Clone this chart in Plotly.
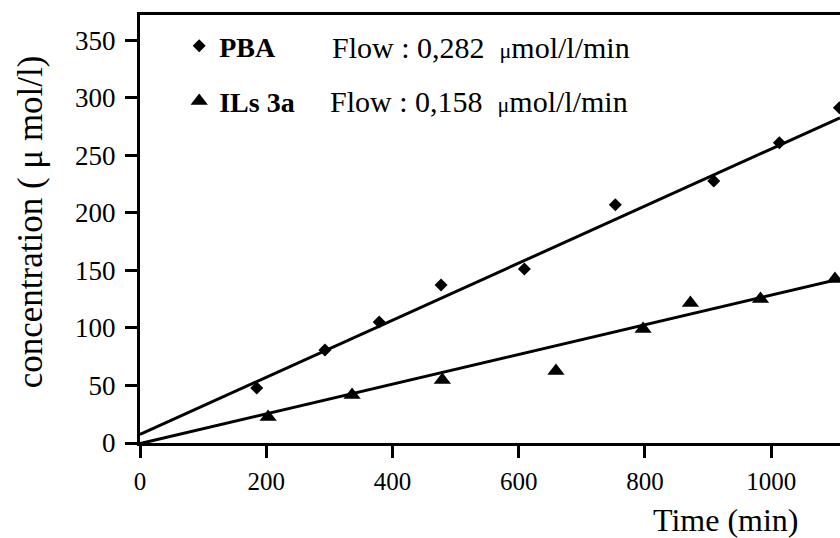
import plotly.graph_objects as go

# ---- data ----
pba_time = [185, 293, 379, 477, 609, 753, 909, 1013, 1108]
pba_conc = [47.8, 80.9, 105.2, 137.4, 151.3, 207.0, 227.8, 260.9, 291.3]

ils_time = [203, 336, 479, 659, 797, 872, 983, 1101]
ils_conc = [22.6, 41.7, 54.8, 62.6, 99.1, 121.7, 125.2, 142.6]

# fitted lines (end points)
pba_fit_time = [0, 1109]
pba_fit_conc = [7.5, 282.6]
ils_fit_time = [0, 1109]
ils_fit_conc = [-0.5, 142.6]

x_ticks = [0, 200, 400, 600, 800, 1000]
y_ticks = [0, 50, 100, 150, 200, 250, 300, 350]

pba_flow = "Flow : 0,282\u00a0\u00a0<span style='font-size:22px'>\u03bc</span>mol/l/min"
ils_flow = "Flow : 0,158\u00a0\u00a0<span style='font-size:22px'>\u03bc</span>mol/l/min"

FONT = "Liberation Serif"

fig = go.Figure()
fig.add_trace(go.Scatter(x=pba_fit_time, y=pba_fit_conc, mode="lines",
                         line=dict(color="black", width=3), showlegend=False,
                         hoverinfo="skip"))
fig.add_trace(go.Scatter(x=ils_fit_time, y=ils_fit_conc, mode="lines",
                         line=dict(color="black", width=3), showlegend=False,
                         hoverinfo="skip"))
fig.add_trace(go.Scatter(x=pba_time, y=pba_conc, mode="markers", name="<b>PBA</b>",
                         legendgroup="a",
                         marker=dict(symbol="diamond", size=10, color="black")))
fig.add_trace(go.Scatter(x=ils_time, y=ils_conc, mode="markers", name="<b>ILs 3a</b>",
                         legendgroup="b",
                         marker=dict(symbol="triangle-up", size=15, color="black")))

fig.add_annotation(text=pba_flow, xref="paper", yref="paper", x=0.2714, y=0.925,
                   xanchor="left", yanchor="middle", showarrow=False,
                   font=dict(family=FONT, size=30, color="black"))
fig.add_annotation(text=ils_flow, xref="paper", yref="paper", x=0.2686, y=0.797,
                   xanchor="left", yanchor="middle", showarrow=False,
                   font=dict(family=FONT, size=30, color="black"))
fig.add_annotation(text="Time (min)", xref="paper", yref="paper", x=0.837, y=-0.18,
                   xanchor="center", yanchor="middle", showarrow=False,
                   font=dict(family=FONT, size=32, color="black"))
fig.add_annotation(text="concentration ( \u03bc mol/l)", xref="paper", yref="paper",
                   x=-0.157, y=0.516, textangle=-90,
                   xanchor="center", yanchor="middle", showarrow=False,
                   font=dict(family=FONT, size=35, color="black"))

fig.update_layout(
    width=840, height=538,
    margin=dict(l=140, r=0, t=15, b=95),
    paper_bgcolor="white", plot_bgcolor="white",
    font=dict(family=FONT, color="black"),
    showlegend=True,
    legend=dict(x=0.056, y=0.986, xanchor="left", yanchor="top",
                bgcolor="rgba(0,0,0,0)", traceorder="grouped", tracegroupgap=16,
                font=dict(family=FONT, size=28, color="black")),
    xaxis=dict(range=[0, 1109], tickvals=x_ticks, ticktext=[str(v) for v in x_ticks],
               showgrid=False, zeroline=False, showline=True, linecolor="black",
               linewidth=3, mirror=True, ticks="outside", ticklen=12, tickwidth=3,
               tickcolor="black", ticklabelstandoff=2,
               tickfont=dict(family=FONT, size=25, color="black")),
    yaxis=dict(range=[0, 372], tickvals=y_ticks, ticktext=[str(v) for v in y_ticks],
               showgrid=False, zeroline=False, showline=True, linecolor="black",
               linewidth=3, ticks="outside", ticklen=12, tickwidth=3,
               tickcolor="black", ticklabelstandoff=4,
               tickfont=dict(family=FONT, size=27, color="black")),
)

fig.write_html("out.html", config={"displayModeBar": False},
               post_script="document.body.style.margin='0';")
